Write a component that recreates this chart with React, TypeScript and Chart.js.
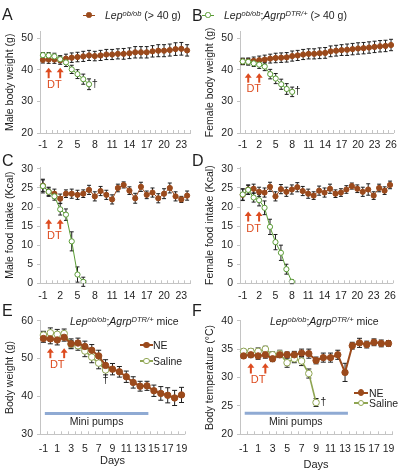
import React, { useEffect, useRef } from 'react';
import { Chart, registerables } from 'chart.js';
Chart.register(...registerables);

const FONT = 'Arial, "Liberation Sans", Helvetica, sans-serif';
const BROWN = '#9b4a1c';
const GREEN = '#5a9c35';
const OLIVE = '#8fa552';
const RED = '#dd4b1f';
const BLUE = '#8faad3';
const AXIS = '#c4c4c4';
const INK = '#1e1e1e';

// ---------- categories (days)
const daysA = [-1, 0, 1, 2, 3, 4, 5, 6, 7, 8, 9, 10, 11, 12, 13, 14, 15, 16, 17, 18, 19, 20, 21, 22, 23, 24];
const daysB = [-1, 0, 1, 2, 3, 4, 5, 6, 7, 8, 9, 10, 11, 12, 13, 14, 15, 16, 17, 18, 19, 20, 21, 22, 23, 24, 25, 26];
const daysE = [-1, 0, 1, 2, 3, 4, 5, 6, 7, 8, 9, 10, 11, 12, 13, 14, 15, 16, 17, 18, 19];
const dtDays = [0, 2];

// ---------- A: male body weight (g)
const obMaleWeight = [43.1, 43.2, 43.2, 43.0, 43.5, 43.8, 44.0, 44.2, 44.5, 44.3, 44.5, 44.8, 44.8, 45.0, 45.0, 45.2, 45.5, 45.5, 45.5, 45.8, 46.0, 46.0, 46.2, 46.5, 46.6, 46.1];
const obMaleWeightSem = [1.0, 1.2, 1.2, 1.3, 1.4, 1.5, 1.5, 1.6, 1.6, 1.5, 1.6, 1.6, 1.6, 1.6, 1.7, 1.7, 1.8, 1.8, 1.8, 1.8, 1.9, 1.9, 1.9, 2.0, 2.0, 1.8];
const dtrMaleWeight = [44.6, 44.5, 44.2, 43.3, 42.3, 40.1, 38.6, 37.0, 35.4];
const dtrMaleWeightSem = [0.8, 0.9, 1.0, 1.1, 1.3, 1.3, 1.4, 1.6, 1.7];

// ---------- B: female body weight (g)
const obFemaleWeight = [42.6, 42.6, 42.8, 43.0, 43.2, 43.5, 43.7, 43.8, 43.9, 44.3, 44.5, 44.8, 45.0, 45.0, 45.2, 45.3, 45.8, 46.0, 46.2, 46.3, 46.5, 46.7, 46.8, 47.0, 47.2, 47.4, 47.5, 47.8];
const obFemaleWeightSem = [1.0, 1.1, 1.2, 1.3, 1.4, 1.4, 1.5, 1.5, 1.5, 1.6, 1.6, 1.6, 1.6, 1.6, 1.7, 1.7, 1.7, 1.7, 1.7, 1.8, 1.8, 1.8, 1.8, 1.8, 1.8, 1.8, 1.8, 1.8];
const dtrFemaleWeight = [42.6, 42.5, 42.0, 41.6, 41.0, 38.6, 37.2, 35.4, 33.9, 33.0];
const dtrFemaleWeightSem = [1.0, 1.0, 1.0, 1.2, 1.3, 1.5, 1.6, 1.6, 1.7, 1.5];

// ---------- C: male food intake (Kcal)
const obMaleFood = [25.6, 24.0, 23.5, 22.2, 23.5, 23.5, 23.2, 23.5, 24.5, 22.8, 24.2, 23.2, 22.0, 25.0, 25.8, 24.3, 22.3, 25.3, 23.2, 23.8, 22.3, 23.5, 25.0, 22.8, 22.0, 23.0];
const obMaleFoodSem = [1.5, 1.2, 1.2, 1.2, 1.0, 1.2, 1.2, 1.0, 1.2, 1.2, 1.2, 1.2, 1.2, 1.0, 0.8, 1.0, 1.3, 1.2, 1.0, 1.2, 1.2, 1.3, 1.3, 1.2, 0.8, 1.2];
const dtrMaleFood = [25.5, 24.0, 22.8, 19.4, 18.0, 11.0, 2.3, 0.4];
const dtrMaleFoodSem = [1.8, 1.0, 1.0, 1.5, 1.5, 2.5, 2.0, 1.2];

// ---------- D: female food intake (Kcal)
const obFemaleFood = [23.2, 24.6, 24.8, 24.0, 23.8, 25.3, 22.8, 24.7, 24.0, 24.6, 25.2, 24.2, 23.5, 23.0, 24.3, 23.8, 24.8, 23.5, 23.8, 24.6, 25.5, 24.8, 24.0, 24.6, 23.0, 25.0, 24.3, 25.8];
const obFemaleFoodSem = [1.5, 1.2, 1.2, 1.2, 1.2, 1.2, 1.2, 1.2, 1.2, 1.2, 1.2, 1.2, 1.2, 1.0, 1.2, 1.2, 1.2, 1.0, 1.0, 1.0, 0.8, 1.0, 1.2, 1.5, 1.0, 1.0, 1.0, 1.0];
const dtrFemaleFood = [23.3, 24.5, 22.5, 21.8, 19.8, 14.8, 10.8, 8.0, 3.7, 0.4];
const dtrFemaleFoodSem = [1.5, 1.2, 1.2, 1.5, 1.8, 2.0, 2.0, 2.0, 1.3, 0.5];

// ---------- E: body weight (g), mini pumps
const neWeight = [55.3, 55.2, 54.9, 55.6, 53.9, 54.1, 53.2, 52.2, 50.7, 48.2, 47.2, 46.5, 45.2, 43.7, 42.7, 42.8, 41.5, 40.8, 40.3, 39.6, 40.4];
const neWeightSem = [1.0, 1.3, 1.3, 1.0, 1.3, 1.3, 1.4, 1.5, 1.5, 1.5, 1.5, 1.4, 1.5, 1.5, 1.3, 1.2, 1.5, 1.8, 2.0, 2.0, 2.0];
const salineWeight = [56.2, 56.8, 56.4, 56.6, 53.8, 53.4, 52.0, 50.4, 48.8, 47.0];
const salineWeightSem = [1.0, 1.3, 1.3, 1.2, 1.0, 1.2, 1.5, 1.5, 1.5, 1.3];

// ---------- F: body temperature (°C), mini pumps
const neTemp = [33.8, 34.0, 33.8, 34.0, 33.3, 34.0, 34.0, 34.0, 34.3, 34.2, 33.0, 33.5, 33.5, 34.0, 30.9, 35.6, 36.1, 35.8, 36.2, 36.0, 36.0];
const neTempSem = [0.4, 0.5, 0.6, 0.6, 0.5, 0.5, 0.5, 0.6, 0.7, 0.8, 0.6, 0.8, 0.8, 0.8, 1.6, 0.6, 0.8, 0.6, 0.6, 0.6, 0.5];
const salineTemp = [34.6, 34.6, 34.6, 35.0, 34.0, 34.2, 32.6, 33.3, 32.9, 30.7, 25.6];
const salineTempSem = [0.4, 0.5, 0.6, 0.5, 0.5, 0.6, 0.8, 0.7, 0.8, 0.8, 0.7];

// ---------- y ticks
const yTicksWeight = [20, 30, 40, 50];
const yTicksFood = [0, 5, 10, 15, 20, 25, 30];
const yTicksE = [30, 40, 50, 60];
const yTicksF = [20, 25, 30, 35, 40];

type Series = { label: string; values: number[]; errors: number[]; color: string; filled: boolean; lineWidth: number; radius: number };
type Annot = {
  arrowTip: number; arrowBase: number; dtY: number;
  dagger: { day: number; y: number };
  pumps?: { from: number; to: number; y: number; textDay: number; textY: number };
};
type PanelCfg = {
  box: { left: number; top: number; width: number; height: number };
  padTop: number; padRight: number; yAxisWidth: number; xAxisHeight: number; xTickPad: number;
  days: number[]; tickEvery: number;
  yMin: number; yMax: number; yTicks: number[];
  yTitle: string; xTitle?: string; xTitlePadBottom?: number;
  series: Series[]; cap: number;
  annot: Annot;
};

const small = (color: string, filled: boolean, label: string, values: number[], errors: number[]): Series =>
  ({ label, values, errors, color, filled, lineWidth: 1, radius: 2.6 });
const big = (color: string, filled: boolean, label: string, values: number[], errors: number[], lw: number, r: number): Series =>
  ({ label, values, errors, color, filled, lineWidth: lw, radius: r });

const panels: PanelCfg[] = [
  {
    box: { left: 0, top: 20, width: 196, height: 135 }, padTop: 11.7, padRight: 6, yAxisWidth: 40, xAxisHeight: 22, xTickPad: 6,
    days: daysA, tickEvery: 3, yMin: 20, yMax: 52, yTicks: yTicksWeight, yTitle: 'Male body weight (g)',
    series: [small(GREEN, false, 'DTR', dtrMaleWeight, dtrMaleWeightSem), small(BROWN, true, 'ob', obMaleWeight, obMaleWeightSem)], cap: 2,
    annot: { arrowTip: 40.6, arrowBase: 37.3, dtY: 35.2, dagger: { day: 8, y: 35.5 } },
  },
  {
    box: { left: 200, top: 20, width: 203, height: 135 }, padTop: 11.7, padRight: 7, yAxisWidth: 40, xAxisHeight: 22, xTickPad: 6,
    days: daysB, tickEvery: 3, yMin: 20, yMax: 52, yTicks: yTicksWeight, yTitle: 'Female body weight (g)',
    series: [small(GREEN, false, 'DTR', dtrFemaleWeight, dtrFemaleWeightSem), small(BROWN, true, 'ob', obFemaleWeight, obFemaleWeightSem)], cap: 2,
    annot: { arrowTip: 38.9, arrowBase: 35.9, dtY: 33.9, dagger: { day: 9, y: 33.3 } },
  },
  {
    box: { left: 0, top: 155, width: 196, height: 150 }, padTop: 12, padRight: 6, yAxisWidth: 40, xAxisHeight: 21.7, xTickPad: 7,
    days: daysA, tickEvery: 3, yMin: 0, yMax: 30.5, yTicks: yTicksFood, yTitle: 'Male food intake (Kcal)',
    series: [small(GREEN, false, 'DTR', dtrMaleFood, dtrMaleFoodSem), small(BROWN, true, 'ob', obMaleFood, obMaleFoodSem)], cap: 2,
    annot: { arrowTip: 16.8, arrowBase: 14.2, dtY: 12.4, dagger: { day: -99, y: 0 } },
  },
  {
    box: { left: 200, top: 155, width: 203, height: 150 }, padTop: 12, padRight: 7, yAxisWidth: 40, xAxisHeight: 21.7, xTickPad: 7,
    days: daysB, tickEvery: 3, yMin: 0, yMax: 30.5, yTicks: yTicksFood, yTitle: 'Female food intake (Kcal)',
    series: [small(GREEN, false, 'DTR', dtrFemaleFood, dtrFemaleFoodSem), small(BROWN, true, 'ob', obFemaleFood, obFemaleFoodSem)], cap: 2,
    annot: { arrowTip: 18.8, arrowBase: 16.2, dtY: 14.2, dagger: { day: -99, y: 0 } },
  },
  {
    box: { left: 0, top: 305, width: 196, height: 167 }, padTop: 15.7, padRight: 6, yAxisWidth: 40, xAxisHeight: 37.7, xTickPad: 8.5,
    days: daysE, tickEvery: 2, yMin: 30, yMax: 60, yTicks: yTicksE, yTitle: 'Body weight (g)', xTitle: 'Days', xTitlePadBottom: 4.5,
    series: [big(BROWN, true, 'NE', neWeight, neWeightSem, 2, 3.2), big(OLIVE, false, 'Saline', salineWeight, salineWeightSem, 1.6, 3.3)], cap: 2.5,
    annot: { arrowTip: 52.7, arrowBase: 50.1, dtY: 48.3, dagger: { day: 8, y: 44.3 },
      pumps: { from: -0.8, to: 14.2, y: 35.5, textDay: 6.7, textY: 33.2 } },
  },
  {
    box: { left: 200, top: 305, width: 203, height: 167 }, padTop: 15.7, padRight: 7, yAxisWidth: 40, xAxisHeight: 37.7, xTickPad: 8.5,
    days: daysE, tickEvery: 2, yMin: 20, yMax: 40, yTicks: yTicksF, yTitle: 'Body temperature (°C)', xTitle: 'Days', xTitlePadBottom: 0.5,
    series: [big(BROWN, true, 'NE', neTemp, neTempSem, 2, 3.2), big(OLIVE, false, 'Saline', salineTemp, salineTempSem, 1.6, 3.3)], cap: 2.5,
    annot: { arrowTip: 32.5, arrowBase: 30.7, dtY: 29.5, dagger: { day: 10, y: 25.7 },
      pumps: { from: -0.85, to: 13.4, y: 23.7, textDay: 6.2, textY: 22.2 } },
  },
];

function makePlugin(cfg: PanelCfg) {
  return {
    id: 'annot',
    beforeDatasetsDraw(chart: any) {
      const ctx = chart.ctx;
      const ys = chart.scales.y;
      chart.data.datasets.forEach((ds: any, di: number) => {
        const meta = chart.getDatasetMeta(di);
        ctx.save();
        ctx.strokeStyle = INK;
        ctx.lineWidth = 1;
        meta.data.forEach((pt: any, i: number) => {
          const v = ds.data[i];
          const e = ds.errors[i];
          const x = pt.x;
          const y1 = ys.getPixelForValue(v + e);
          const y2 = ys.getPixelForValue(v - e);
          ctx.beginPath();
          ctx.moveTo(x, y1); ctx.lineTo(x, y2);
          ctx.moveTo(x - cfg.cap, y1); ctx.lineTo(x + cfg.cap, y1);
          ctx.moveTo(x - cfg.cap, y2); ctx.lineTo(x + cfg.cap, y2);
          ctx.stroke();
        });
        ctx.restore();
      });
    },
    afterDraw(chart: any) {
      const ctx = chart.ctx;
      const xs = chart.scales.x;
      const ys = chart.scales.y;
      const first = cfg.days[0];
      const px = (day: number) => xs.getPixelForValue(day - first);
      const a = chart.chartArea;
      // minor ticks on x axis (inside)
      ctx.save();
      ctx.strokeStyle = AXIS;
      ctx.lineWidth = 1;
      const n = cfg.days.length;
      for (let i = 0; i <= n; i++) {
        const x = Math.round(a.left + (i * (a.right - a.left)) / n) + 0.5;
        ctx.beginPath();
        ctx.moveTo(x, a.bottom);
        ctx.lineTo(x, a.bottom - 3);
        ctx.stroke();
      }
      ctx.restore();
      // DT arrows
      const an = cfg.annot;
      ctx.save();
      ctx.strokeStyle = RED;
      ctx.fillStyle = RED;
      dtDays.forEach((d) => {
        const x = px(d);
        const yt = ys.getPixelForValue(an.arrowTip);
        const yb = ys.getPixelForValue(an.arrowBase);
        ctx.lineWidth = 2;
        ctx.beginPath();
        ctx.moveTo(x, yb);
        ctx.lineTo(x, yt + 3);
        ctx.stroke();
        ctx.beginPath();
        ctx.moveTo(x, yt);
        ctx.lineTo(x - 3.5, yt + 4.5);
        ctx.lineTo(x + 3.5, yt + 4.5);
        ctx.closePath();
        ctx.fill();
      });
      ctx.font = `11px ${FONT}`;
      ctx.textAlign = 'center';
      ctx.textBaseline = 'middle';
      ctx.fillText('DT', px((dtDays[0] + dtDays[1]) / 2), ys.getPixelForValue(an.dtY));
      ctx.restore();
      // dagger
      if (an.dagger.day >= first) {
        ctx.save();
        ctx.fillStyle = INK;
        ctx.font = `11px ${FONT}`;
        ctx.textAlign = 'center';
        ctx.textBaseline = 'middle';
        ctx.fillText('†', px(an.dagger.day), ys.getPixelForValue(an.dagger.y));
        ctx.restore();
      }
      // mini pumps
      if (an.pumps) {
        const p = an.pumps;
        ctx.save();
        ctx.strokeStyle = BLUE;
        ctx.lineWidth = 3;
        const y = ys.getPixelForValue(p.y);
        ctx.beginPath();
        ctx.moveTo(px(p.from), y);
        ctx.lineTo(px(p.to), y);
        ctx.stroke();
        ctx.fillStyle = INK;
        ctx.font = `10.5px ${FONT}`;
        ctx.textAlign = 'center';
        ctx.textBaseline = 'middle';
        ctx.fillText('Mini pumps', px(p.textDay), ys.getPixelForValue(p.textY));
        ctx.restore();
      }
    },
  };
}

function Panel({ cfg }: { cfg: PanelCfg }) {
  const ref = useRef<HTMLCanvasElement>(null);
  useEffect(() => {
    const font = { family: FONT, size: 10.5 };
    const chart = new Chart(ref.current as HTMLCanvasElement, {
      type: 'line',
      data: {
        labels: cfg.days.map(String),
        datasets: cfg.series.map((s) => ({
          label: s.label,
          data: s.values,
          errors: s.errors,
          borderColor: s.color,
          backgroundColor: s.filled ? s.color : '#ffffff',
          pointBackgroundColor: s.filled ? s.color : '#ffffff',
          pointBorderColor: s.color,
          pointBorderWidth: 1,
          pointRadius: s.radius,
          borderWidth: s.lineWidth,
          tension: 0,
          fill: false,
        })) as any,
      },
      options: {
        animation: false,
        responsive: false,
        devicePixelRatio: 1,
        layout: { padding: { top: cfg.padTop, right: cfg.padRight, left: 0, bottom: 0 } },
        plugins: { legend: { display: false }, tooltip: { enabled: false } },
        scales: {
          x: {
            type: 'category',
            offset: true,
            grid: { display: false, drawTicks: false, tickLength: 0 },
            border: { display: true, color: AXIS, width: 1 },
            ticks: {
              autoSkip: false, maxRotation: 0, minRotation: 0, padding: cfg.xTickPad, color: INK, font,
              callback: (_v: any, i: number) => (i % cfg.tickEvery === 0 ? String(cfg.days[i]) : ''),
            },
            title: cfg.xTitle
              ? { display: true, text: cfg.xTitle, color: INK, font: { family: FONT, size: 11 }, padding: { top: 0, bottom: cfg.xTitlePadBottom || 0 } }
              : { display: false },
            afterFit: (s: any) => { s.height = cfg.xAxisHeight; },
          },
          y: {
            type: 'linear',
            min: cfg.yMin,
            max: cfg.yMax,
            grid: { display: true, drawOnChartArea: false, drawTicks: true, tickLength: 3, color: AXIS },
            border: { display: true, color: AXIS, width: 1 },
            afterBuildTicks: (s: any) => { s.ticks = cfg.yTicks.map((v) => ({ value: v })); },
            ticks: { padding: 4, color: INK, font },
            title: { display: true, text: cfg.yTitle, color: INK, font: { family: FONT, size: 10.5 }, padding: { top: 4, bottom: 0 } },
            afterFit: (s: any) => { s.width = cfg.yAxisWidth; },
          },
        },
      } as any,
      plugins: [makePlugin(cfg)],
    });
    return () => chart.destroy();
  }, []);
  const { left, top, width, height } = cfg.box;
  return <canvas ref={ref} width={width} height={height} style={{ position: 'absolute', left, top, width, height }} />;
}

const Sup = ({ children }: { children: any }) => (
  <span style={{ fontSize: '0.72em', position: 'relative', top: '-0.45em' }}>{children}</span>
);

function Mark({ x, y, len, color, filled, lw, r }: { x: number; y: number; len: number; color: string; filled: boolean; lw: number; r: number }) {
  return (
    <>
      <div style={{ position: 'absolute', left: x, top: y - lw / 2, width: len, height: lw, background: color }} />
      <div style={{ position: 'absolute', left: x + len / 2 - r, top: y - r, width: 2 * r, height: 2 * r, borderRadius: '50%', boxSizing: 'border-box', border: `1px solid ${color}`, background: filled ? color : '#fff' }} />
    </>
  );
}

const txt = (left: number, top: number, size: number, extra: any = {}) =>
  ({ position: 'absolute' as const, left, top, fontSize: size, lineHeight: `${size}px`, whiteSpace: 'nowrap' as const, color: INK, ...extra });

export default function App() {
  return (
    <div style={{ position: 'fixed', left: 0, top: 0, width: 403, height: 472, background: '#fff', fontFamily: FONT, overflow: 'hidden' }}>
      {panels.map((p, i) => <Panel key={i} cfg={p} />)}
      {/* panel letters */}
      <div style={txt(2, 7, 16)}>A</div>
      <div style={txt(192, 8, 16)}>B</div>
      <div style={txt(2, 153, 16)}>C</div>
      <div style={txt(192, 153, 16)}>D</div>
      <div style={txt(2, 303, 16)}>E</div>
      <div style={txt(192, 303, 16)}>F</div>
      {/* top legend */}
      <Mark x={83} y={15} len={12} color={BROWN} filled lw={1} r={2.6} />
      <div style={txt(105, 10, 10.5)}><i>Lep</i><Sup><i>ob/ob</i></Sup> (&gt; 40 g)</div>
      <Mark x={202} y={15} len={12} color={GREEN} filled={false} lw={1} r={2.6} />
      <div style={txt(224, 10, 10.5)}><i>Lep</i><Sup><i>ob/ob</i></Sup>;<i>Agrp</i><Sup><i>DTR/+</i></Sup> (&gt; 40 g)</div>
      {/* E title + legend */}
      <div style={txt(70, 316, 10.5)}><i>Lep</i><Sup><i>ob/ob</i></Sup>;<i>Agrp</i><Sup><i>DTR/+</i></Sup> mice</div>
      <Mark x={140} y={345} len={13} color={BROWN} filled lw={2} r={3.2} />
      <div style={txt(153, 340, 10.5)}>NE</div>
      <Mark x={140} y={361} len={13} color={OLIVE} filled={false} lw={1.6} r={3.3} />
      <div style={txt(153, 356, 10.5)}>Saline</div>
      {/* F title + legend */}
      <div style={txt(270, 316, 10.5)}><i>Lep</i><Sup><i>ob/ob</i></Sup>;<i>Agrp</i><Sup><i>DTR/+</i></Sup> mice</div>
      <Mark x={354} y={392.5} len={14} color={BROWN} filled lw={2} r={3.2} />
      <div style={txt(369, 387.5, 10.5)}>NE</div>
      <Mark x={354} y={403} len={14} color={OLIVE} filled={false} lw={1.6} r={3.3} />
      <div style={txt(369, 398, 10.5)}>Saline</div>
    </div>
  );
}
